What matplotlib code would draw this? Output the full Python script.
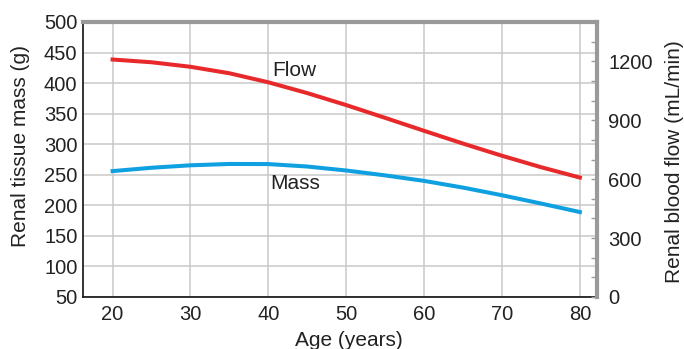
import numpy as np
import matplotlib
matplotlib.use("Agg")
import matplotlib.pyplot as plt
from matplotlib.ticker import MultipleLocator

plt.rcParams["font.family"] = ["Liberation Sans", "DejaVu Sans"]

# ==========================================
# DATA
# ==========================================

age = [20, 25, 30, 35, 40, 45, 50, 55, 60, 65, 70, 75, 80]

mass_g = [256, 261.5, 265.5, 267.7, 267.5, 263.5, 257, 249, 240, 229, 216.5, 203, 189]

flow_ml_min = [1209, 1195, 1172, 1139, 1093, 1038, 977, 912, 846, 781, 719, 661, 608]

x_ticks = [20, 30, 40, 50, 60, 70, 80]
left_ticks = [50, 100, 150, 200, 250, 300, 350, 400, 450, 500]
right_ticks = [0, 300, 600, 900, 1200]

RED = "#e8292b"
BLUE = "#0ea0e0"
GRID = "#c9c9c9"
SPINE_GRAY = "#9a9a9a"

# ==========================================
# FIGURE
# ==========================================

W, H = 684, 349
fig = plt.figure(figsize=(W / 100, H / 100), dpi=100)
ax = fig.add_axes([83 / W, 1 - 297 / H, (597 - 83) / W, (297 - 22) / H])

ax.plot(age, mass_g, color=BLUE, lw=2.9, solid_joinstyle="round", zorder=3)

ax.set_xlim(16.2, 82.2)
ax.set_ylim(50, 500)
ax.set_xticks(x_ticks)
ax.set_yticks(left_ticks)
ax.grid(True, color=GRID, lw=1.1)
ax.set_axisbelow(True)
ax.tick_params(length=0, labelsize=14.5, colors="#222222")
ax.tick_params(axis="y", pad=4)
ax.tick_params(axis="x", pad=6)

for side in ["left", "bottom"]:
    ax.spines[side].set_color("#111111")
    ax.spines[side].set_linewidth(1.2)
ax.spines["top"].set_color(SPINE_GRAY)
ax.spines["top"].set_linewidth(3)
ax.spines["right"].set_visible(False)

# right axis: blood flow
ax2 = ax.twinx()
ax2.plot(age, flow_ml_min, color=RED, lw=2.9, solid_joinstyle="round", zorder=3)
ax2.set_ylim(0, 1400)
ax2.set_yticks(right_ticks)
ax2.yaxis.set_minor_locator(MultipleLocator(100))
ax2.tick_params(axis="y", which="both", direction="in", length=4, width=1,
                color=SPINE_GRAY, labelsize=14.5, labelcolor="#222222", pad=8)
for side in ["left", "bottom", "top"]:
    ax2.spines[side].set_visible(False)
ax2.spines["right"].set_color(SPINE_GRAY)
ax2.spines["right"].set_linewidth(3)

ax.text(40.5, 421, "Flow", fontsize=15, color="#222222", va="center", ha="left")
ax.text(40.2, 235, "Mass", fontsize=15, color="#222222", va="center", ha="left")

# axis labels placed in pixel space
fig.text(349 / W, 2.5 / H, "Age (years)", fontsize=15, color="#222222",
         ha="center", va="baseline")
fig.text(21 / W, 1 - 146 / H, "Renal tissue mass (g)", fontsize=15,
         color="#222222", rotation=90, ha="center", va="center")
fig.text(674 / W, 1 - 162 / H, "Renal blood flow (mL/min)", fontsize=15,
         color="#222222", rotation=90, ha="center", va="center")

fig.savefig("out.png", dpi=100)
